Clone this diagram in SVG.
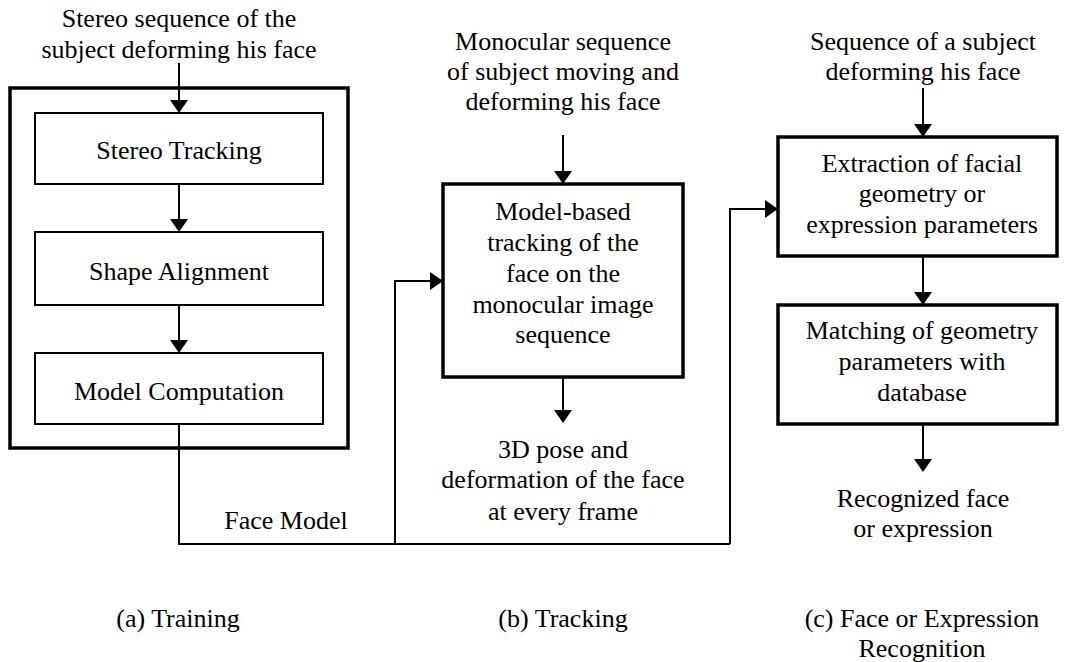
<svg xmlns="http://www.w3.org/2000/svg" width="1065" height="662" viewBox="0 0 1065 662" font-family="Liberation Serif, Times New Roman, serif">
<style>
text{font-size:26px;fill:#000;text-anchor:middle}
.thin{fill:#fff;stroke:#000;stroke-width:2}
.thick{fill:none;stroke:#000;stroke-width:3.5}
.tbox{fill:#fff;stroke:#000;stroke-width:3.5}
.c{fill:none;stroke:#000;stroke-width:2}
</style>
<defs>
<marker id="ah" viewBox="0 0 13 18" refX="0" refY="9" markerWidth="13" markerHeight="18" markerUnits="userSpaceOnUse" orient="auto">
<path d="M0,0 L13,9 L0,18 z" fill="#000"/>
</marker>
</defs>
<rect width="1065" height="662" fill="#fff"/>

<g id="training-frame">
<rect class="thick" x="10" y="88" width="338" height="360"/>
</g>
<g id="stereo-input">
<text x="179" y="27">Stereo sequence of the</text>
<text x="179" y="58">subject deforming his face</text>
</g>
<g id="stereo-tracking">
<rect class="thin" x="35" y="113" width="288" height="71"/>
<text x="179" y="159">Stereo Tracking</text>
</g>
<g id="shape-alignment">
<rect class="thin" x="35" y="232" width="288" height="73"/>
<text x="179" y="280">Shape Alignment</text>
</g>
<g id="model-computation">
<rect class="thin" x="35" y="353" width="288" height="71"/>
<text x="179" y="400">Model Computation</text>
</g>

<g id="mono-input">
<text x="563" y="50">Monocular sequence</text>
<text x="563" y="80">of subject moving and</text>
<text x="563" y="110">deforming his face</text>
</g>
<g id="model-tracking">
<rect class="tbox" x="443" y="184" width="240" height="193"/>
<text x="563" y="220">Model-based</text>
<text x="563" y="251">tracking of the</text>
<text x="563" y="282">face on the</text>
<text x="563" y="313">monocular image</text>
<text x="563" y="343">sequence</text>
</g>
<g id="pose-output">
<text x="563" y="458">3D pose and</text>
<text x="563" y="488">deformation of the face</text>
<text x="563" y="520">at every frame</text>
</g>

<g id="recog-input">
<text x="923" y="50">Sequence of a subject</text>
<text x="923" y="80">deforming his face</text>
</g>
<g id="extraction">
<rect class="tbox" x="778" y="137" width="279" height="119"/>
<text x="922" y="172">Extraction of facial</text>
<text x="922" y="202">geometry or</text>
<text x="922" y="233">expression parameters</text>
</g>
<g id="matching">
<rect class="tbox" x="778" y="305" width="279" height="119"/>
<text x="922" y="339">Matching of geometry</text>
<text x="922" y="370">parameters with</text>
<text x="922" y="401">database</text>
</g>
<g id="recog-output">
<text x="923" y="507">Recognized face</text>
<text x="923" y="537">or expression</text>
</g>

<g id="face-model-label">
<text x="286" y="529">Face Model</text>
</g>

<g id="captions">
<text x="178" y="627">(a) Training</text>
<text x="563" y="627">(b) Tracking</text>
<text x="922" y="627">(c) Face or Expression</text>
<text x="922" y="657">Recognition</text>
</g>

<g id="connectors">
<line class="c" x1="179" y1="63" x2="179" y2="100" marker-end="url(#ah)"/>
<line class="c" x1="179" y1="184" x2="179" y2="219" marker-end="url(#ah)"/>
<line class="c" x1="179" y1="305" x2="179" y2="340" marker-end="url(#ah)"/>
<line class="c" x1="563" y1="135" x2="563" y2="171" marker-end="url(#ah)"/>
<line class="c" x1="563" y1="377" x2="563" y2="410" marker-end="url(#ah)"/>
<line class="c" x1="923" y1="88" x2="923" y2="124" marker-end="url(#ah)"/>
<line class="c" x1="923" y1="256" x2="923" y2="292" marker-end="url(#ah)"/>
<line class="c" x1="923" y1="424" x2="923" y2="459" marker-end="url(#ah)"/>
<path class="c" d="M179,424 V544 H730"/>
<path class="c" d="M395,544 V281 H430" marker-end="url(#ah)"/>
<path class="c" d="M730,544 V209 H765" marker-end="url(#ah)"/>
</g>
</svg>
